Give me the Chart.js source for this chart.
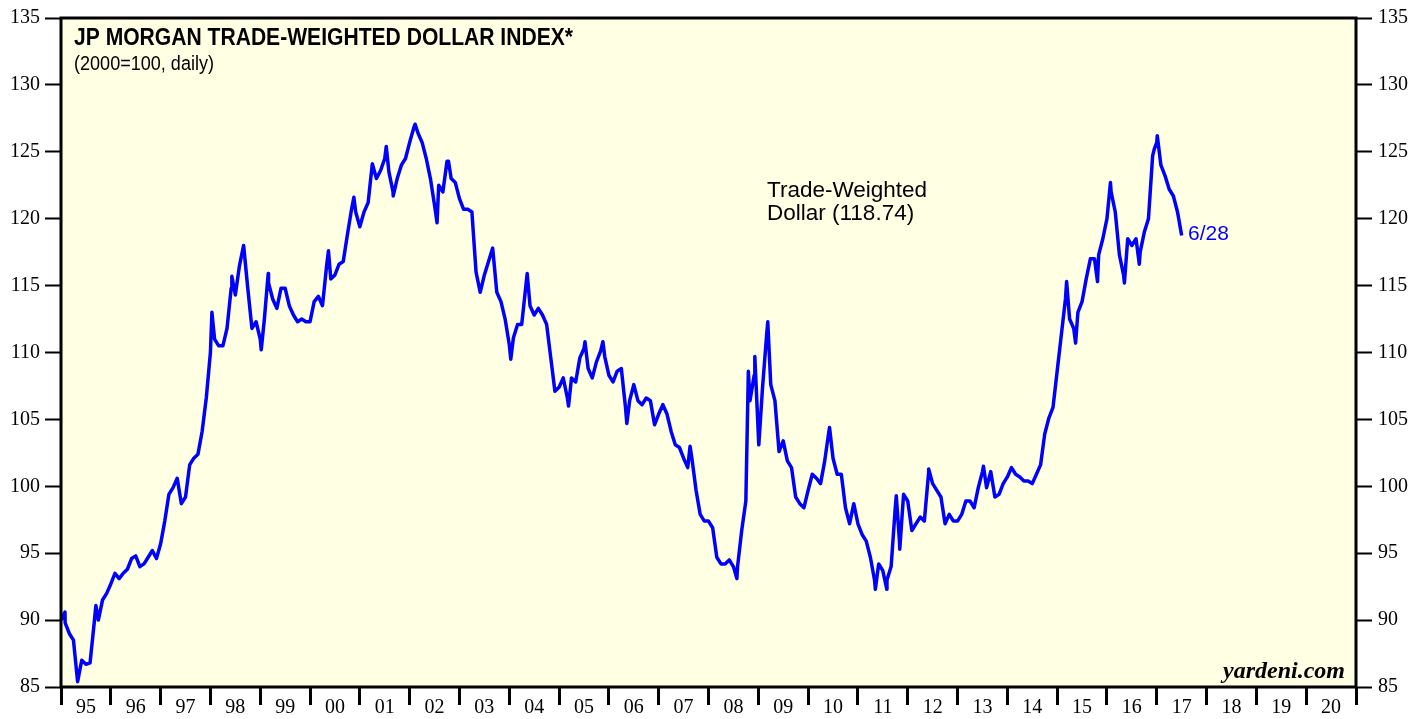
<!DOCTYPE html>
<html>
<head>
<meta charset="utf-8">
<title>JP Morgan Trade-Weighted Dollar Index</title>
<script src="https://cdn.jsdelivr.net/npm/chart.js@4.4.1/dist/chart.umd.min.js"></script>
<style>
  html, body { margin: 0; padding: 0; background: #fff; }
  #wrap { width: 1427px; height: 719px; }
</style>
</head>
<body>
<div id="wrap"><canvas id="dollarChart" width="1427" height="719"></canvas></div>
<script>
// JP Morgan trade-weighted dollar index, monthly readings (2000=100)
const v1995 = [90.0, 89.8, 89.0, 88.5, 85.4, 87.0, 86.7, 86.8, 89.8, 90.0, 91.5, 92.0];
const v1996 = [92.7, 93.5, 93.1, 93.5, 93.8, 94.6, 94.8, 94.0, 94.2, 94.7, 95.2, 94.6];
const v1997 = [95.7, 97.4, 99.4, 99.9, 100.6, 98.7, 99.2, 101.6, 102.1, 102.4, 104.1, 106.6];
const v1998 = [110.0, 111.0, 110.5, 110.5, 111.8, 114.8, 114.3, 116.5, 118.0, 114.8, 111.8, 112.3];
const v1999 = [111.0, 112.5, 115.2, 114.0, 113.3, 114.8, 114.8, 113.5, 112.8, 112.3, 112.5, 112.3];
const v2000 = [112.3, 113.8, 114.2, 113.5, 116.5, 115.5, 115.8, 116.6, 116.8, 118.8, 120.7, 120.5];
const v2001 = [119.4, 120.5, 121.2, 124.1, 123.0, 123.6, 124.5, 123.5, 122.0, 123.0, 124.0, 124.5];
const v2002 = [125.7, 126.8, 126.4, 125.7, 124.5, 123.0, 121.0, 122.5, 122.0, 124.3, 123.0, 122.7];
const v2003 = [121.5, 120.7, 120.7, 120.5, 116.0, 114.5, 115.8, 116.8, 117.8, 114.5, 113.8, 112.5];
const v2004 = [110.6, 111.1, 112.1, 112.1, 115.0, 113.5, 112.8, 113.3, 112.8, 112.1, 109.6, 107.1];
const v2005 = [107.4, 108.1, 106.6, 108.1, 107.8, 109.6, 110.3, 108.8, 108.1, 109.3, 110.1, 109.7];
const v2006 = [108.3, 107.8, 108.6, 108.8, 105.9, 106.4, 107.6, 106.4, 106.1, 106.6, 106.4, 104.6];
const v2007 = [105.4, 106.1, 105.4, 104.1, 103.1, 102.9, 102.1, 101.4, 102.1, 99.7, 97.9, 97.4];
const v2008 = [97.4, 96.9, 94.7, 94.2, 94.2, 94.5, 94.0, 94.0, 96.7, 98.9, 106.4, 108.3];
const v2009 = [103.9, 107.3, 111.3, 107.6, 106.4, 102.6, 103.4, 101.9, 101.4, 99.2, 98.7, 98.4];
const v2010 = [99.7, 100.9, 100.6, 100.2, 101.9, 104.1, 102.1, 100.9, 100.9, 98.4, 97.2, 98.7];
const v2011 = [97.2, 96.4, 95.9, 94.7, 93.0, 94.2, 93.7, 93.0, 94.0, 98.4, 95.9, 99.4];
const v2012 = [98.9, 96.7, 97.2, 97.7, 97.4, 100.9, 100.2, 99.7, 99.2, 97.2, 97.9, 97.4];
const v2013 = [97.4, 97.9, 98.9, 98.9, 98.4, 99.9, 101.1, 99.9, 101.1, 99.2, 99.4, 100.2];
const v2014 = [100.7, 101.4, 100.9, 100.7, 100.4, 100.4, 100.2, 100.9, 101.6, 103.9, 105.1, 105.9];
const v2015 = [108.6, 111.3, 114.0, 112.5, 111.8, 113.0, 113.8, 115.5, 117.0, 117.0, 117.3, 118.5];
const v2016 = [120.0, 122.0, 120.5, 117.3, 115.8, 118.5, 118.0, 118.5, 117.5, 119.0, 120.0, 124.7];
const v2017 = [125.7, 124.0, 123.2, 122.2, 121.7, 120.5, 118.74];

// short-lived highs and lows between the monthly readings
const spikeDates  = [1995.08, 1995.70, 1998.03, 1998.43, 1999.02, 1999.16, 2000.37, 2000.88,
                     2001.53, 2001.67, 2002.11, 2002.55, 2002.78, 2004.03, 2004.36, 2005.19,
                     2005.52, 2005.88, 2006.36, 2007.63, 2008.57, 2008.80, 2008.93, 2009.01,
                     2009.19, 2010.43, 2011.35, 2011.58, 2011.77, 2011.84, 2012.42, 2013.52,
                     2015.19, 2015.37, 2015.81, 2016.07, 2016.35, 2016.65, 2016.95, 2017.01];
const spikeValues = [90.6, 91.1, 113.0, 115.7, 110.2, 115.9, 117.6, 121.6,
                     125.4, 121.7, 127.06, 119.7, 124.3, 109.5, 115.9, 106.0,
                     110.8, 110.8, 104.7, 103.0, 93.1, 108.6, 109.7, 103.1,
                     112.3, 104.4, 92.3, 92.3, 99.3, 95.3, 101.3, 101.5,
                     115.3, 110.7, 115.3, 122.7, 115.2, 116.6, 125.2, 126.2];

const firstYear = 1995;
const yearLabels = ['95', '96', '97', '98', '99', '00', '01', '02', '03', '04', '05', '06', '07',
                    '08', '09', '10', '11', '12', '13', '14', '15', '16', '17', '18', '19', '20'];
const yMin = 85, yMax = 135, yStep = 5;

const yearRows = [v1995, v1996, v1997, v1998, v1999, v2000, v2001, v2002, v2003, v2004, v2005, v2006,
                  v2007, v2008, v2009, v2010, v2011, v2012, v2013, v2014, v2015, v2016, v2017];

const points = [];
yearRows.forEach((row, yi) => {
  row.forEach((v, m) => points.push({ x: firstYear + yi + m / 12, y: v }));
});
spikeDates.forEach((d, i) => points.push({ x: d, y: spikeValues[i] }));
points.sort((a, b) => a.x - b.x);

const lastYear = firstYear + yearLabels.length;

// background + frame + text annotations
const framePlugin = {
  id: 'frame',
  beforeDraw(chart) {
    const { ctx, chartArea: a } = chart;
    ctx.save();
    ctx.fillStyle = '#FFFFE4';
    ctx.fillRect(a.left, a.top, a.right - a.left, a.bottom - a.top);
    ctx.restore();
  },
  afterDraw(chart) {
    const { ctx, chartArea: a } = chart;
    ctx.save();
    ctx.strokeStyle = '#000';
    ctx.lineWidth = 3;
    ctx.strokeRect(a.left, a.top, a.right - a.left, a.bottom - a.top);

    ctx.fillStyle = '#000';
    ctx.textAlign = 'left';
    ctx.textBaseline = 'alphabetic';
    ctx.font = 'bold 24px "Liberation Sans", Arial, sans-serif';
    ctx.fillText('JP MORGAN TRADE-WEIGHTED DOLLAR INDEX*', 74, 45, 499);
    ctx.font = '20px "Liberation Sans", Arial, sans-serif';
    ctx.fillText('(2000=100, daily)', 74, 70, 140);

    ctx.font = '22.5px "Liberation Sans", Arial, sans-serif';
    ctx.fillText('Trade-Weighted', 767, 197);
    ctx.fillText('Dollar (118.74)', 767, 220);

    ctx.fillStyle = '#0000FF';
    ctx.font = '21px "Liberation Sans", Arial, sans-serif';
    ctx.fillText('6/28', 1188, 240);

    ctx.fillStyle = '#000';
    ctx.textAlign = 'right';
    ctx.font = 'italic bold 24px "Liberation Serif", "Times New Roman", serif';
    ctx.fillText('yardeni.com', 1345, 678, 128);
    ctx.restore();
  }
};

const tickFont = { family: '"Liberation Serif", "Times New Roman", serif', size: 20 };

new Chart(document.getElementById('dollarChart'), {
  type: 'line',
  data: {
    datasets: [{
      label: 'Trade-Weighted Dollar',
      data: points,
      borderColor: '#0000FF',
      borderWidth: 3.5,
      borderJoinStyle: 'round',
      pointRadius: 0,
      tension: 0,
      fill: false
    }]
  },
  options: {
    responsive: false,
    animation: false,
    events: [],
    layout: { padding: { top: 15, left: 0, right: 0, bottom: 0 } },
    plugins: {
      legend: { display: false },
      tooltip: { enabled: false }
    },
    scales: {
      x: {
        type: 'linear',
        min: firstYear,
        max: lastYear,
        afterBuildTicks(scale) {
          const t = [];
          for (let i = 0; i < yearLabels.length; i++) {
            t.push({ value: firstYear + i });
            t.push({ value: firstYear + i + 0.5 });
          }
          t.push({ value: lastYear });
          scale.ticks = t;
        },
        afterFit(scale) { scale.height = 32; },
        border: { display: false },
        grid: {
          drawOnChartArea: false,
          drawTicks: true,
          tickLength: 18,
          tickWidth: 3,
          tickColor: (c) => (c.tick && Number.isInteger(c.tick.value)) ? '#000' : 'rgba(0,0,0,0)'
        },
        ticks: {
          autoSkip: false,
          maxRotation: 0,
          minRotation: 0,
          padding: -9,
          color: '#000',
          font: tickFont,
          callback: (value) => Number.isInteger(value) ? '' : yearLabels[Math.floor(value) - firstYear]
        }
      },
      y: {
        position: 'left',
        min: yMin,
        max: yMax,
        afterFit(scale) { scale.width = 61; },
        border: { display: false },
        grid: { drawOnChartArea: false, tickLength: 16, tickWidth: 2, tickColor: '#000' },
        ticks: { stepSize: yStep, padding: 5, color: '#000', font: tickFont }
      },
      y2: {
        position: 'right',
        min: yMin,
        max: yMax,
        afterFit(scale) { scale.width = 71; },
        border: { display: false },
        grid: { drawOnChartArea: false, tickLength: 16, tickWidth: 2, tickColor: '#000' },
        ticks: { stepSize: yStep, padding: 6, color: '#000', font: tickFont }
      }
    }
  },
  plugins: [framePlugin]
});
</script>
</body>
</html>
